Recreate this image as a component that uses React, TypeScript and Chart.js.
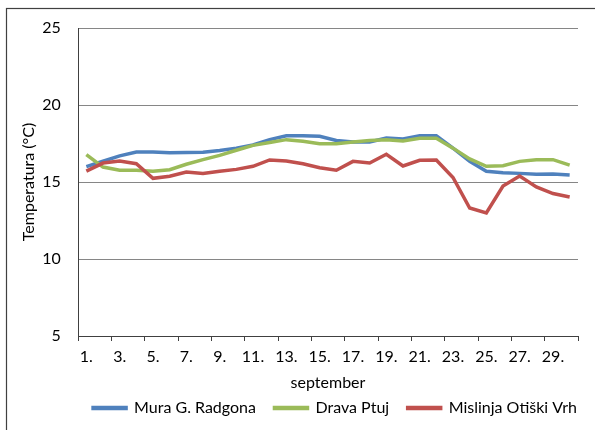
import React, { useEffect, useRef } from "react";
import { Chart, registerables } from "chart.js";

Chart.register(...registerables);

const days: string[] = Array.from({ length: 30 }, (_, i) => `${i + 1}.`);

const muraGRadgona: number[] = [
  16.0, 16.35, 16.7, 16.95, 16.95, 16.9, 16.92, 16.93, 17.05, 17.2,
  17.4, 17.75, 18.0, 18.0, 17.97, 17.7, 17.6, 17.6, 17.85, 17.8,
  18.0, 18.0, 17.2, 16.35, 15.7, 15.6, 15.56, 15.5, 15.52, 15.45,
];

const dravaPtuj: number[] = [
  16.78, 15.97, 15.76, 15.76, 15.7, 15.8, 16.15, 16.45, 16.73, 17.06,
  17.38, 17.56, 17.75, 17.64, 17.49, 17.49, 17.6, 17.7, 17.75, 17.66,
  17.84, 17.84, 17.2, 16.5, 16.02, 16.06, 16.34, 16.45, 16.45, 16.1,
];

const mislinjaOtiskiVrh: number[] = [
  15.71, 16.23, 16.36, 16.19, 15.24, 15.37, 15.65, 15.56, 15.7, 15.82,
  16.02, 16.43, 16.36, 16.19, 15.93, 15.76, 16.34, 16.23, 16.8, 16.04,
  16.41, 16.43, 15.29, 13.31, 12.99, 14.74, 15.39, 14.68, 14.25, 14.03,
];

const seriesNames: string[] = ["Mura G. Radgona", "Drava Ptuj", "Mislinja Otiški Vrh"];
const seriesColors: string[] = ["#4F81BD", "#9BBB59", "#C0504D"];
const yTitle = "Temperatura (°C)";
const xTitle = "september";

const legendShift = {
  id: "legendShift",
  afterLayout(chart: any) {
    if (chart.legend) {
      chart.legend.left += 46;
      chart.legend.right += 46;
    }
  },
};

const outerBorder = {
  id: "outerBorder",
  beforeDraw(chart: any) {
    const ctx = chart.ctx;
    ctx.save();
    ctx.strokeStyle = "#404040";
    ctx.lineWidth = 1.2;
    ctx.strokeRect(6.5, 8.5, chart.width + 10, chart.height + 10);
    ctx.restore();
  },
};

export default function App() {
  const ref = useRef<HTMLCanvasElement | null>(null);

  useEffect(() => {
    if (!ref.current) return;
    Chart.defaults.font.family = "Lato";
    Chart.defaults.font.size = 16;
    Chart.defaults.color = "#000";
    const values = [muraGRadgona, dravaPtuj, mislinjaOtiskiVrh];
    const chart = new Chart(ref.current, {
      type: "line",
      data: {
        labels: days,
        datasets: values.map((v, i) => ({
          label: seriesNames[i],
          data: v,
          borderColor: seriesColors[i],
          backgroundColor: seriesColors[i],
          borderWidth: 3.5,
          pointRadius: 0,
          tension: 0,
          order: 3 - i,
        })),
      },
      plugins: [legendShift, outerBorder],
      options: {
        responsive: false,
        animation: false,
        layout: { padding: { left: 0, right: 17, top: 28, bottom: 4 } },
        plugins: {
          tooltip: { enabled: false },
          legend: {
            position: "bottom",
            labels: {
              boxWidth: 33,
              boxHeight: 1,
              padding: 18.5,
              font: { size: 16 },
              sort: (a: any, b: any) => a.datasetIndex - b.datasetIndex,
            },
          },
        },
        scales: {
          x: {
            offset: true,
            afterFit: (s: any) => {
              s.height = 45.5;
            },
            grid: {
              display: true,
              drawOnChartArea: false,
              drawTicks: true,
              tickLength: 5,
              offset: true,
              color: (ctx: any) =>
                ctx.type !== "tick" || ctx.index % 2 === 0 ? "#404040" : "rgba(0,0,0,0)",
            },
            border: { display: true, color: "#404040" },
            ticks: {
              autoSkip: false,
              maxRotation: 0,
              padding: 6,
              callback: (_v: any, idx: number) => (idx % 2 === 0 ? days[idx] : ""),
            },
            title: {
              display: true,
              text: xTitle,
              font: { size: 16 },
              padding: { top: 0, bottom: -11.1 },
            },
          },
          y: {
            min: 5,
            max: 25,
            afterFit: (s: any) => {
              s.width = 78;
            },
            grid: {
              color: "#868686",
              drawTicks: true,
              tickLength: 17.3,
              tickColor: "rgba(0,0,0,0)",
              lineWidth: 1,
            },
            border: { display: true, color: "#404040" },
            ticks: { stepSize: 5, padding: 0 },
            title: {
              display: true,
              text: yTitle,
              font: { size: 16 },
              padding: { top: 19.4, bottom: 0 },
            },
          },
        },
      },
    });
    return () => chart.destroy();
  }, []);

  return (
    <div style={{ position: "fixed", left: 0, top: 0, width: 595, height: 430 }}>
      <canvas ref={ref} width={595} height={430} style={{ display: "block" }} />
    </div>
  );
}
